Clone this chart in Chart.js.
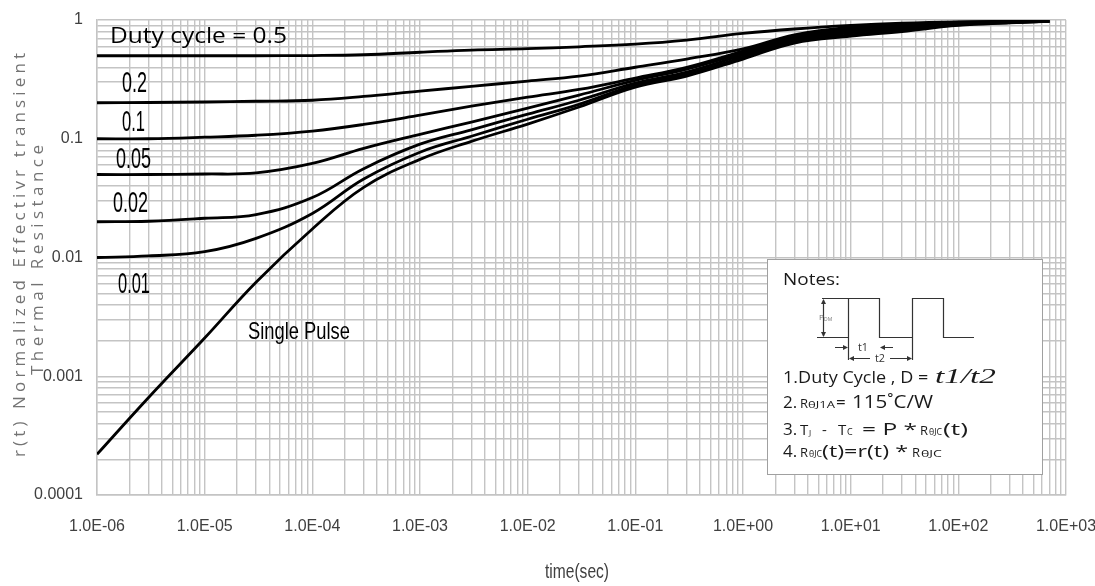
<!DOCTYPE html>
<html><head><meta charset="utf-8">
<script src="https://cdn.jsdelivr.net/npm/chart.js@4.4.1/dist/chart.umd.min.js"></script>
<style>html,body{margin:0;padding:0;background:#fff;}#wrap{width:1095px;height:586px;position:relative;}canvas{display:block;}</style>
</head><body><div id="wrap"><canvas id="c" width="1095" height="586"></canvas></div>
<script>
// ---- data ----
const timeSec   = [1e-6, 3e-6, 1e-5, 3e-5, 1e-4, 3e-4, 1e-3, 3e-3, 1e-2, 3e-2, 1e-1, 3e-1, 1, 3, 10, 30, 100, 300, 700];
const duty05    = [0.5, 0.5, 0.5, 0.5, 0.502, 0.51, 0.535, 0.558, 0.573, 0.595, 0.627, 0.678, 0.77, 0.84, 0.9, 0.94, 0.965, 0.973, 0.975];
const duty02    = [0.201, 0.202, 0.204, 0.207, 0.211, 0.227, 0.252, 0.276, 0.306, 0.337, 0.40, 0.469, 0.57, 0.75, 0.87, 0.91, 0.96, 0.97, 0.975];
const duty01    = [0.1, 0.1, 0.103, 0.107, 0.116, 0.132, 0.158, 0.188, 0.224, 0.26, 0.324, 0.40, 0.547, 0.72, 0.84, 0.885, 0.945, 0.965, 0.975];
const duty005   = [0.05, 0.05, 0.0505, 0.0516, 0.062, 0.083, 0.109, 0.138, 0.181, 0.233, 0.31, 0.386, 0.527, 0.70, 0.81, 0.86, 0.93, 0.96, 0.975];
const duty002   = [0.02, 0.0202, 0.0214, 0.023, 0.032, 0.056, 0.09, 0.119, 0.161, 0.211, 0.294, 0.364, 0.507, 0.68, 0.78, 0.84, 0.92, 0.955, 0.975];
const duty001   = [0.01, 0.0103, 0.0112, 0.0145, 0.0235, 0.0458, 0.077, 0.105, 0.146, 0.195, 0.283, 0.35, 0.487, 0.66, 0.75, 0.82, 0.91, 0.95, 0.975];
const singlePulse = [0.00022, 0.00066, 0.0021, 0.0062, 0.0174, 0.039, 0.067, 0.095, 0.133, 0.185, 0.272, 0.337, 0.469, 0.64, 0.73, 0.80, 0.90, 0.945, 0.975];

const xMajorTicks = [1e-6, 1e-5, 1e-4, 1e-3, 1e-2, 1e-1, 1, 10, 100, 1000];
const xTickLabels = ['1.0E-06','1.0E-05','1.0E-04','1.0E-03','1.0E-02','1.0E-01','1.0E+00','1.0E+01','1.0E+02','1.0E+03'];
const yMajorTicks = [1e-4, 1e-3, 1e-2, 1e-1, 1];
const yTickLabels = ['0.0001','0.001','0.01','0.1','1'];

const seriesNames = ['D = 0.5','D = 0.2','D = 0.1','D = 0.05','D = 0.02','D = 0.01','Single Pulse'];
const seriesValues = [duty05, duty02, duty01, duty005, duty002, duty001, singlePulse];

// ---- helpers ----
function decadeTicks(majors){
  const out=[];
  for(let i=0;i<majors.length;i++){
    const b=majors[i];
    if(i===majors.length-1){out.push(b);break;}
    for(let k=1;k<=9;k++) out.push(b*k);
  }
  return out;
}
function labelFor(v, majors, labels){
  for(let i=0;i<majors.length;i++){
    if(Math.abs(Math.log10(v)-Math.log10(majors[i]))<1e-6) return labels[i];
  }
  return '';
}
const NARROW='"Liberation Sans Narrow","Liberation Sans",Arial,sans-serif';
const SANS='"Open Sans","Noto Sans",sans-serif';

function drawFit(ctx, text, x, y, font, width, color){
  ctx.save();
  ctx.font=font; ctx.fillStyle=color||'#000'; ctx.textAlign='left'; ctx.textBaseline='alphabetic';
  const w=ctx.measureText(text).width;
  const s=width? width/w : 1;
  ctx.translate(x,y); ctx.scale(s,1); ctx.fillText(text,0,0);
  ctx.restore();
}
function drawSpaced(ctx, text, cx, cy, font, length, color){
  ctx.save();
  ctx.font=font; ctx.fillStyle=color; ctx.textBaseline='alphabetic'; ctx.textAlign='left';
  const chars=[...text];
  const ws=chars.map(c=>ctx.measureText(c).width);
  const total=ws.reduce((a,b)=>a+b,0);
  const gap=(length-total)/(chars.length-1);
  ctx.translate(cx,cy); ctx.rotate(-Math.PI/2);
  let x=-length/2;
  chars.forEach((c,i)=>{ctx.fillText(c,x,0); x+=ws[i]+gap;});
  ctx.restore();
}
function arrowHead(ctx,x,y,dir){
  ctx.beginPath(); ctx.moveTo(x,y); ctx.lineTo(x-dir*5,y-2.5); ctx.lineTo(x-dir*5,y+2.5); ctx.closePath(); ctx.fill();
}

const annotations={
  id:'annotations',
  afterDraw(chart){
    const ctx=chart.ctx;
    // curve labels
    drawFit(ctx,'Duty cycle = 0.5',110,43,'21px '+SANS,177,'#000');
    drawFit(ctx,'0.2',122,92,'30px '+NARROW,25,'#000');
    drawFit(ctx,'0.1',122,131,'30px '+NARROW,23,'#000');
    drawFit(ctx,'0.05',116,168,'30px '+NARROW,35,'#000');
    drawFit(ctx,'0.02',113,212,'30px '+NARROW,35,'#000');
    drawFit(ctx,'0.01',118,293,'30px '+NARROW,32,'#000');
    drawFit(ctx,'Single Pulse',248,339,'24px '+NARROW,102,'#000');

    // axis titles
    drawSpaced(ctx,'r(t) Normalized Effectivr transient',25,255,'17px '+SANS,404,'#737373');
    drawSpaced(ctx,'Thermal Resistance',43,260,'17px '+SANS,230,'#737373');
    ctx.save();
    ctx.font='21px '+NARROW; ctx.fillStyle='#404040'; ctx.textAlign='center'; ctx.textBaseline='alphabetic';
    const tw=ctx.measureText('time(sec)').width;
    ctx.translate(577,578); ctx.scale(64/tw,1); ctx.fillText('time(sec)',0,0);
    ctx.restore();

    // notes box
    ctx.save();
    ctx.fillStyle='#fff'; ctx.fillRect(767,259,275,215);
    ctx.strokeStyle='#a0a0a0'; ctx.lineWidth=1; ctx.strokeRect(767.5,259.5,275,215);
    ctx.restore();
    const T='#1a1a1a';
    drawFit(ctx,'Notes:',783,285,'17px '+SANS,57,T);
    // waveform
    ctx.save();
    ctx.strokeStyle='#333'; ctx.lineWidth=1.2; ctx.fillStyle='#333';
    ctx.beginPath();
    ctx.moveTo(817,337.5); ctx.lineTo(848.5,337.5); ctx.lineTo(848.5,298.5); ctx.lineTo(879.5,298.5); ctx.lineTo(879.5,337.5);
    ctx.lineTo(912.5,337.5); ctx.lineTo(912.5,298.5); ctx.lineTo(943.5,298.5); ctx.lineTo(943.5,337.5); ctx.lineTo(974,337.5);
    ctx.moveTo(822,298.5); ctx.lineTo(848.5,298.5);
    ctx.moveTo(823.5,300); ctx.lineTo(823.5,336);
    ctx.moveTo(848.5,337.5); ctx.lineTo(848.5,360);
    ctx.moveTo(912.5,337.5); ctx.lineTo(912.5,360);
    ctx.moveTo(835,347.5); ctx.lineTo(846,347.5);
    ctx.moveTo(882,347.5); ctx.lineTo(893,347.5);
    ctx.moveTo(850,358.5); ctx.lineTo(870,358.5);
    ctx.moveTo(890,358.5); ctx.lineTo(911,358.5);
    ctx.stroke();
    ctx.beginPath(); ctx.moveTo(823.5,299); ctx.lineTo(821,304); ctx.lineTo(826,304); ctx.closePath(); ctx.fill();
    ctx.beginPath(); ctx.moveTo(823.5,337); ctx.lineTo(821,332); ctx.lineTo(826,332); ctx.closePath(); ctx.fill();
    arrowHead(ctx,848,347.5,1);
    arrowHead(ctx,880,347.5,-1);
    arrowHead(ctx,849,358.5,-1);
    arrowHead(ctx,912,358.5,1);
    ctx.restore();
    drawFit(ctx,'P',819,320,'8px '+SANS,null,'#777');
    drawFit(ctx,'DM',824,321,'5px '+SANS,null,'#777');
    drawFit(ctx,'t1',858,351,'10px '+SANS,10,'#333');
    drawFit(ctx,'t2',875,362,'10px '+SANS,10,'#333');
    // line 1
    drawFit(ctx,'1.Duty Cycle , D = ',783,383,'17px '+SANS,150,T);
    drawFit(ctx,'t1/t2',935,383,'italic 20px "Liberation Serif",serif',61,T);
    // line 2
    drawFit(ctx,'2.',783,408,'17px '+SANS,null,T);
    drawFit(ctx,'R',800,408,'13px '+SANS,null,T);
    drawFit(ctx,'θJ1A',808,408,'9px '+SANS,27,T);
    drawFit(ctx,'=',836,408,'17px '+SANS,null,T);
    drawFit(ctx,'115˚C/W',852,408,'19px '+SANS,81,T);
    // line 3
    drawFit(ctx,'3.',783,435,'17px '+SANS,null,T);
    drawFit(ctx,'T',800,435,'15px '+SANS,null,T);
    drawFit(ctx,'J',809,435,'8px '+SANS,null,T);
    drawFit(ctx,'-',822,435,'15px '+SANS,null,T);
    drawFit(ctx,'T',838,435,'15px '+SANS,null,T);
    drawFit(ctx,'C',847,435,'9px '+SANS,null,T);
    drawFit(ctx,'= P *',862,435,'17px '+SANS,55,T);
    drawFit(ctx,'R',920,435,'13px '+SANS,null,T);
    drawFit(ctx,'θJC',929,435,'9px '+SANS,13,T);
    drawFit(ctx,'(t)',943,435,'17px '+SANS,25,T);
    // line 4
    drawFit(ctx,'4.',783,457,'17px '+SANS,null,T);
    drawFit(ctx,'R',800,457,'13px '+SANS,null,T);
    drawFit(ctx,'θJC',809,457,'9px '+SANS,13,T);
    drawFit(ctx,'(t)=r(t) *',822,457,'17px '+SANS,86,T);
    drawFit(ctx,'R',912,457,'13px '+SANS,null,T);
    drawFit(ctx,'θJC',921,457,'9px '+SANS,21,T);
  }
};

const datasets = seriesValues.map((vals,i)=>({
  label: seriesNames[i],
  data: timeSec.map((t,j)=>({x:t,y:vals[j]})),
  borderColor:'#000',
  borderWidth:2.8,
  pointRadius:0,
  fill:false,
  tension:0.4
}));

const gridColor='#c4c4c4';
new Chart(document.getElementById('c'),{
  type:'line',
  data:{datasets},
  plugins:[annotations],
  options:{
    responsive:false,
    animation:false,
    devicePixelRatio:1,
    layout:{padding:{left:0,right:29,top:20,bottom:0}},
    plugins:{legend:{display:false},tooltip:{enabled:false},title:{display:false}},
    scales:{
      x:{
        type:'logarithmic', min:1e-6, max:1e3,
        afterBuildTicks:s=>{s.ticks=decadeTicks(xMajorTicks).map(v=>({value:v}));},
        afterFit:s=>{s.height=91; s.paddingLeft=0; s.paddingRight=0;},
        ticks:{autoSkip:false,maxRotation:0,minRotation:0,padding:22,color:'#404040',
          font:{family:NARROW,size:16},
          callback:(v)=>labelFor(v,xMajorTicks,xTickLabels)},
        grid:{color:gridColor,lineWidth:1.4,drawTicks:false},
        border:{color:gridColor,width:1.4}
      },
      y:{
        type:'logarithmic', min:1e-4, max:1,
        afterBuildTicks:s=>{s.ticks=decadeTicks(yMajorTicks).map(v=>({value:v}));},
        afterFit:s=>{s.width=97; s.paddingTop=0; s.paddingBottom=0;},
        ticks:{autoSkip:false,padding:14,color:'#404040',
          font:{family:NARROW,size:16},
          callback:(v)=>labelFor(v,yMajorTicks,yTickLabels)},
        grid:{color:gridColor,lineWidth:1.4,drawTicks:false},
        border:{color:gridColor,width:1.4}
      }
    }
  }
});
</script></body></html>
